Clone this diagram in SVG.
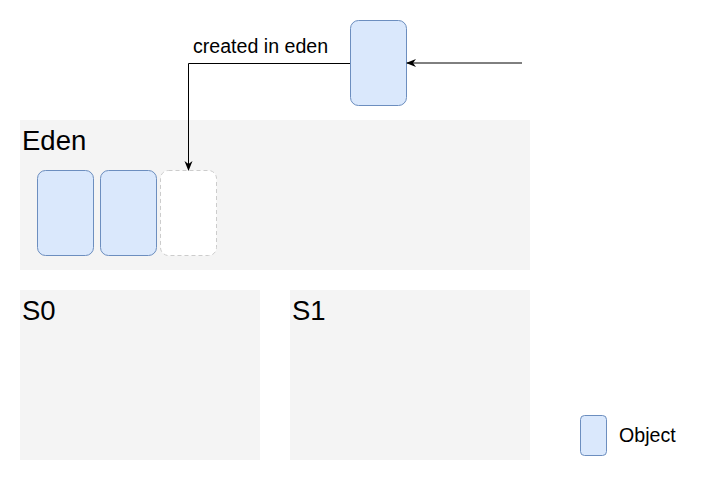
<svg xmlns="http://www.w3.org/2000/svg" width="708" height="481" viewBox="0 0 708 481">
<style>
.area{fill:#f4f4f4;stroke:none}
.obj{fill:#dae8fc;stroke:#6c8ebf;stroke-width:1}
.ghost{fill:#ffffff;stroke:#cccccc;stroke-width:1;stroke-dasharray:4 3}
.big{font-family:"Liberation Sans",Arial,sans-serif;font-size:27.5px;fill:#000}
.lbl{font-family:"Liberation Sans",Arial,sans-serif;font-size:19.6px;fill:#000}
.edge{fill:none;stroke:#000;stroke-width:1}
</style>
<defs>
<marker id="arr" viewBox="0 0 10 10" refX="9" refY="5" markerWidth="10" markerHeight="10" markerUnits="userSpaceOnUse" orient="auto">
<path d="M0,1 L10,5 L0,9 L3,5 Z" fill="#000"/>
</marker>
</defs>
<rect width="708" height="481" fill="#fff"/>
<g id="eden">
<rect class="area" x="20" y="120" width="510" height="150"/>
<text class="big" x="22" y="150">Eden</text>
</g>
<g id="s0">
<rect class="area" x="20" y="290" width="240" height="170"/>
<text class="big" x="22" y="320">S0</text>
</g>
<g id="s1">
<rect class="area" x="290" y="290" width="240" height="170"/>
<text class="big" x="292" y="320">S1</text>
</g>
<g id="obj1"><rect class="obj" x="37.5" y="170.5" width="56" height="85" rx="8"/></g>
<g id="obj2"><rect class="obj" x="100.5" y="170.5" width="56" height="85" rx="8"/></g>
<g id="slot"><rect class="ghost" x="160.5" y="170.5" width="56" height="85" rx="8"/></g>
<g id="newobj"><rect class="obj" x="350.5" y="20.5" width="56" height="85" rx="8"/></g>
<g id="legend">
<rect class="obj" x="580.5" y="415.5" width="26" height="40" rx="4"/>
<text class="lbl" x="619" y="442">Object</text>
</g>
<g id="connectors">
<path class="edge" d="M522,63 L407,63" marker-end="url(#arr)"/>
<path class="edge" d="M350,63.5 L188.5,63.5 L188.5,170" marker-end="url(#arr)"/>
<text class="lbl" x="193" y="53">created in eden</text>
</g>
</svg>
